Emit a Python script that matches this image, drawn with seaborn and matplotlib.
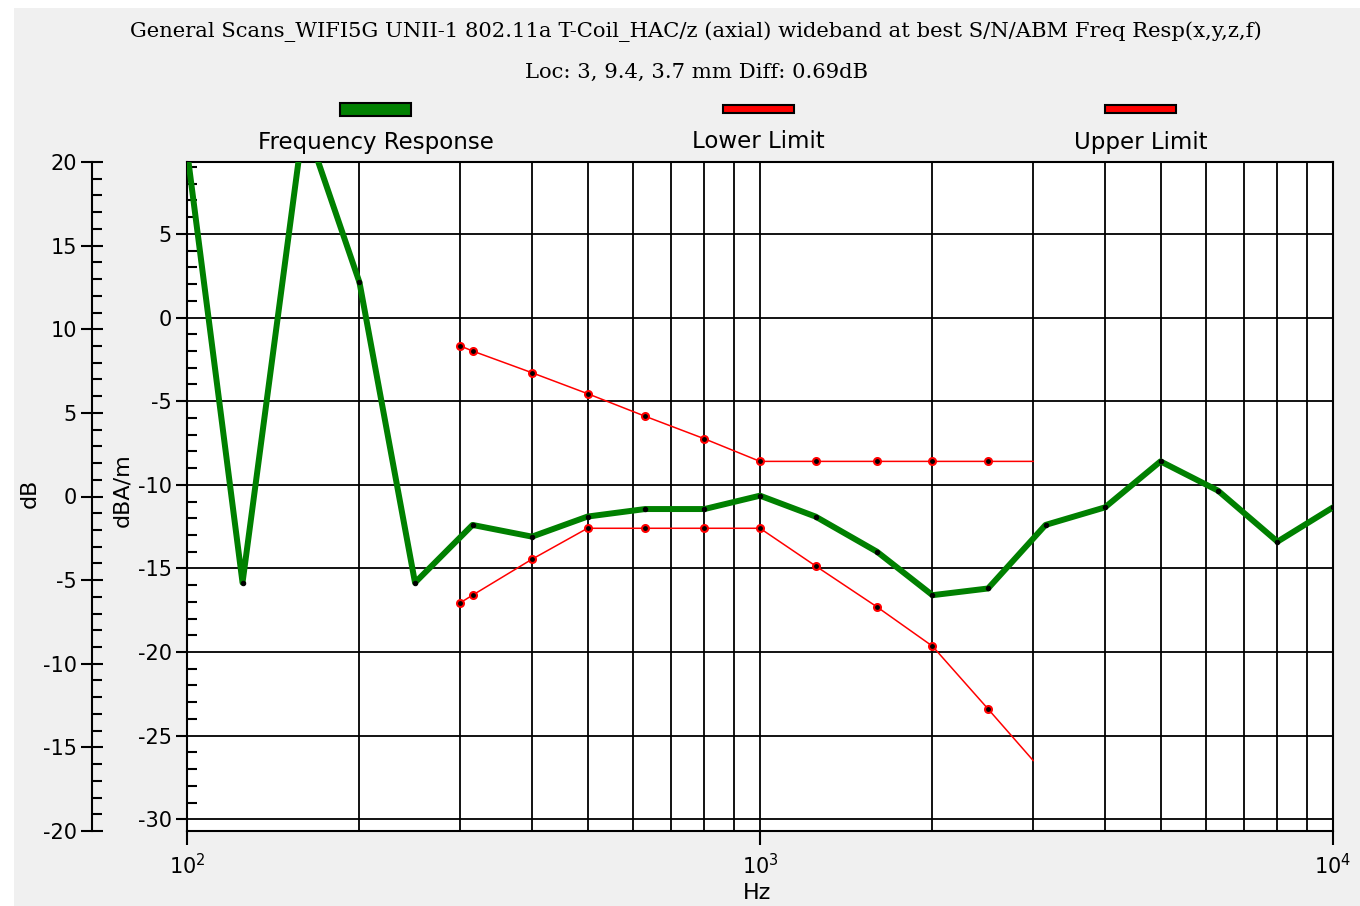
import matplotlib
matplotlib.use("Agg")
import matplotlib.pyplot as plt
from matplotlib.patches import Rectangle
from matplotlib.ticker import MultipleLocator, LogLocator, NullFormatter
import seaborn as sns

# Frequency response (dBA/m)
resp_freq = [100, 125, 160, 200, 250, 315, 400, 500, 630, 800, 1000,
             1250, 1600, 2000, 2500, 3150, 4000, 5000, 6300, 8000, 10000]
resp_vals = [10.0, -15.85, 11.8, 2.1, -15.85, -12.4, -13.1, -11.9, -11.45, -11.45, -10.65,
             -11.9, -14.0, -16.6, -16.2, -12.4, -11.35, -8.6, -10.35, -13.4, -11.35]

# Limits
limit_freq = [300, 315, 400, 500, 630, 800, 1000, 1250, 1600, 2000, 2500, 3000]
lower_vals = [-17.05, -16.6, -14.45, -12.6, -12.6, -12.6, -12.6, -14.85, -17.3, -19.65, -23.4, -26.5]
upper_vals = [-1.7, -2.0, -3.3, -4.55, -5.9, -7.25, -8.6, -8.6, -8.6, -8.6, -8.6, -8.6]

title_1 = "General Scans_WIFI5G UNII-1 802.11a T-Coil_HAC/z (axial) wideband at best S/N/ABM Freq Resp(x,y,z,f)"
title_2 = "Loc: 3, 9.4, 3.7 mm Diff: 0.69dB"
legend_names = ["Frequency Response", "Lower Limit", "Upper Limit"]
legend_colors = ["#008000", "#ff0000", "#ff0000"]

sns.set_style("white")
plt.rcParams['font.family'] = ['DejaVu Sans']
plt.rcParams['axes.unicode_minus'] = False
plt.rcParams['text.color'] = 'black'
plt.rcParams['xtick.color'] = 'black'
plt.rcParams['ytick.color'] = 'black'

W, H = 1360, 906
fig = plt.figure(figsize=(13.6, 9.06), dpi=100, facecolor='white')
fig.patches.append(Rectangle((14 / W, 0), 1 - 14 / W, 1 - 8 / H, transform=fig.transFigure,
                             facecolor='#f0f0f0', edgecolor='none', zorder=-10))

L, R, T, B = 187, 1333, 162, 831
ax = fig.add_axes([L / W, 1 - B / H, (R - L) / W, (B - T) / H])
ax.set_facecolor('white')

# outer dB axis
ax2 = ax.twinx()
ax2.set_ylim(-20, 20)
ax2.yaxis.tick_left()
ax2.spines['left'].set_position(('axes', (92 - L) / (R - L)))
for s in ['right', 'top', 'bottom']:
    ax2.spines[s].set_visible(False)
ax2.spines['left'].set_color('black')
ax2.spines['left'].set_linewidth(1.5)
ax2.yaxis.set_major_locator(MultipleLocator(5))
ax2.yaxis.set_minor_locator(MultipleLocator(1))
ax2.tick_params(axis='y', which='major', direction='inout', length=16, width=1.5,
                labelsize=15, pad=3, colors='black', left=True)
ax2.tick_params(axis='y', which='minor', direction='in', length=7, width=1.5, left=True)
ax2.patch.set_visible(False)

sns.lineplot(x=resp_freq, y=resp_vals, ax=ax, color='#008000', linewidth=4.3,
             marker='o', markersize=3.2, markerfacecolor='black', markeredgecolor='black',
             estimator=None, zorder=5)
sns.lineplot(x=limit_freq, y=lower_vals, ax=ax, color='#ff0000', linewidth=1.1,
             marker='o', markersize=5, markerfacecolor='black', markeredgecolor='#ff0000',
             markeredgewidth=1.5, markevery=list(range(11)), estimator=None, zorder=4)
sns.lineplot(x=limit_freq, y=upper_vals, ax=ax, color='#ff0000', linewidth=1.1,
             marker='o', markersize=5, markerfacecolor='black', markeredgecolor='#ff0000',
             markeredgewidth=1.5, markevery=list(range(11)), estimator=None, zorder=4)

ax.set_xscale('log')
ax.set_xlim(100, 10000)
ax.set_ylim(-30.7, 9.3)
ax.xaxis.set_major_locator(LogLocator(base=10))
ax.xaxis.set_minor_locator(LogLocator(base=10, subs=range(2, 10)))
ax.xaxis.set_minor_formatter(NullFormatter())
ax.yaxis.set_major_locator(MultipleLocator(5))
ax.yaxis.set_minor_locator(MultipleLocator(1))
ax.grid(True, which='major', axis='y', color='black', linewidth=1.3)
ax.grid(True, which='both', axis='x', color='black', linewidth=1.3)
ax.set_axisbelow(True)
for s in ax.spines.values():
    s.set_visible(True)
    s.set_color('black')
    s.set_linewidth(1.5)
ax.tick_params(axis='y', which='major', direction='out', length=8, width=1.5,
               labelsize=15, pad=3, colors='black', left=True)
ax.tick_params(axis='y', which='minor', direction='in', length=7, width=1.5, left=True)
ax.tick_params(axis='x', which='major', direction='out', length=10, width=1.5,
               labelsize=15, pad=6, colors='black', bottom=True)
ax.tick_params(axis='x', which='minor', length=0)
ax.set_xlabel('')
ax.set_ylabel('')

# titles
fig.text(696 / W, 1 - 32 / H, title_1, ha='center', va='center', fontsize=15.2,
         family='DejaVu Serif', color='black')
fig.text(697 / W, 1 - 72 / H, title_2, ha='center', va='center', fontsize=15.2,
         family='DejaVu Serif', color='black')

# legend above the plot
centers = [375.5, 758.5, 1140.5]
heights = [13, 8, 8]
for cx, name, col, h in zip(centers, legend_names, legend_colors, heights):
    fig.patches.append(Rectangle(((cx - 35.5) / W, 1 - (109 + h / 2) / H), 71 / W, h / H,
                                 transform=fig.transFigure, facecolor=col,
                                 edgecolor='black', linewidth=1.5))
    fig.text(cx / W, 1 - 142 / H, name, ha='center', va='center', fontsize=16.5)

# axis labels
fig.text(30 / W, 1 - 493 / H, 'dB', rotation=90, ha='center', va='center', fontsize=16)
fig.text(122 / W, 1 - 490 / H, 'dBA/m', rotation=90, ha='center', va='center', fontsize=16)
fig.text(757 / W, 1 - 893 / H, 'Hz', ha='center', va='center', fontsize=16)

fig.savefig('out.png', dpi=100, facecolor=fig.get_facecolor())
